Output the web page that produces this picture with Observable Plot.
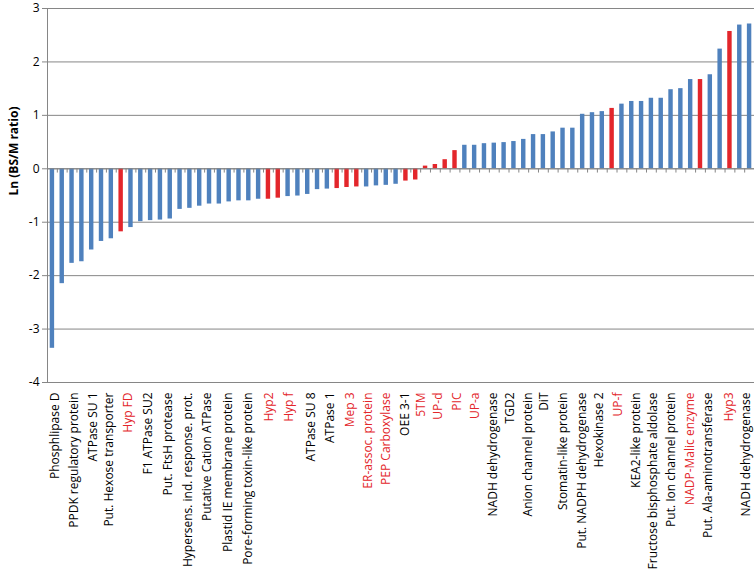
<!DOCTYPE html>
<html>
<head>
<meta charset="utf-8">
<script src="https://cdn.jsdelivr.net/npm/d3@7"></script>
<script src="https://cdn.jsdelivr.net/npm/@observablehq/plot@0.6"></script>
<style>
  html, body { margin: 0; padding: 0; background: #fff; }
</style>
</head>
<body>
<div id="chart"></div>
<script>
// Ln (BS/M ratio) for each protein, sorted ascending (72 bars)
const values = [
  -3.36, -2.15, -1.77, -1.74, -1.52, -1.36, -1.31, -1.18, -1.10, -0.99,
  -0.97, -0.96, -0.94, -0.76, -0.74, -0.70, -0.66, -0.66, -0.62, -0.60,
  -0.60, -0.57, -0.57, -0.55, -0.52, -0.51, -0.48, -0.39, -0.38, -0.37,
  -0.35, -0.34, -0.34, -0.32, -0.31, -0.29, -0.23, -0.21, 0.05, 0.08,
  0.17, 0.34, 0.44, 0.44, 0.47, 0.48, 0.49, 0.51, 0.55, 0.64,
  0.64, 0.69, 0.76, 0.76, 1.02, 1.05, 1.07, 1.13, 1.21, 1.26,
  1.26, 1.32, 1.32, 1.48, 1.50, 1.67, 1.67, 1.76, 2.24, 2.57,
  2.69, 2.71
];
// bars highlighted in red
const redBars = [7, 22, 23, 29, 30, 31, 36, 37, 38, 39, 40, 41, 57, 66, 69];

// category labels shown on the axis, and where each sits along the bar sequence
const labels = [
  "Phosphlipase D", "PPDK regulatory protein", "ATPase SU 1", "Put. Hexose transporter",
  "Hyp FD", "F1 ATPase SU2", "Put. FtsH protease", "Hypersens. ind. response. prot.",
  "Putative Cation ATPase", "Plastid IE membrane protein", "Pore-forming toxin-like protein",
  "Hyp2", "Hyp f", "ATPase SU 8", "ATPase 1", "Mep 3", "ER-assoc. protein",
  "PEP Carboxylase", "OEE 3-1", "5TM", "UP-d", "PIC", "UP-a", "NADH dehydrogenase",
  "TGD2", "Anion channel protein", "DiT", "Stomatin-like protein",
  "Put. NADPH dehydrogenase", "Hexokinase 2", "UP-f", "KEA2-like protein",
  "Fructose bisphosphate aldolase", "Put. Ion channel protein", "NADP-Malic enzyme",
  "Put. Ala-aminotransferase", "Hyp3", "NADH dehydrogenase"
];
const labelAt = [
  0.3, 2.2, 4.1, 5.8, 7.7, 9.7, 11.8, 13.8, 15.8, 17.9, 19.9, 22.1, 24.1, 26.3, 28.3,
  30.3, 32.2, 34.0, 35.9, 37.6, 39.3, 41.2, 43.1, 44.9, 46.6, 48.4, 50.1, 52.0, 53.9,
  55.7, 57.6, 59.4, 61.2, 63.0, 64.9, 66.8, 68.9, 70.6
];
// labels written in red
const redLabels = [
  "Hyp FD", "Hyp2", "Hyp f", "Mep 3", "ER-assoc. protein", "PEP Carboxylase",
  "5TM", "UP-d", "PIC", "UP-a", "UP-f", "NADP-Malic enzyme", "Hyp3"
];
const yTicks = [-4, -3, -2, -1, 0, 1, 2, 3];
const yTitle = "Ln (BS/M ratio)";

const BLUE = "#4f81bd";
const RED = "#e3262b";
const GRID = "#868686";

const bars = values.map((v, i) => ({i, v, red: redBars.includes(i)}));
const tickPos = labelAt.map(p => p + 0.5);          // bar i spans [i, i + 1]
const labelOf = new Map(tickPos.map((p, k) => [p, labels[k]]));
const redLabelSet = new Set(redLabels);

const chart = Plot.plot({
  width: 754,
  height: 581,
  marginLeft: 47,
  marginRight: 0,
  marginTop: 8,
  marginBottom: 199,
  style: {fontFamily: "'Open Sans', sans-serif", fontSize: "12px", background: "#fff", color: "#000"},
  x: {type: "linear", domain: [0, values.length], axis: null},
  y: {domain: [-4, 3], axis: null},
  color: {type: "identity"},
  marks: [
    Plot.gridY(yTicks, {stroke: GRID, strokeOpacity: 1}),
    Plot.frame({anchor: "left", stroke: GRID}),
    Plot.axisY(yTicks, {
      anchor: "left", tickSize: 5, tickPadding: 3, stroke: GRID,
      tickFormat: d => String(d), fontSize: 12, label: null
    }),
    Plot.rectY(bars, {x: "i", interval: 1, y: "v", insetLeft: 2.7, insetRight: 2.7,
      fill: d => d.red ? RED : BLUE}),
    Plot.ruleY([0], {stroke: GRID}),
    Plot.ruleX(d3.range(1, values.length + 1), {x: d => d, y1: 0, y2: -0.08, stroke: GRID}),
    Plot.axisX(tickPos, {
      anchor: "bottom", tickSize: 0, tickPadding: 10, tickRotate: -90,
      textAnchor: "end", lineAnchor: "middle",
      tickFormat: p => labelOf.get(p), label: null, fontSize: 12,
      fill: p => redLabelSet.has(labelOf.get(p)) ? RED : "#000"
    }),
    Plot.text([yTitle], {
      frameAnchor: "left", rotate: -90, dx: -33, fontWeight: "bold", fontSize: 12, fill: "#000"
    })
  ]
});
document.getElementById("chart").append(chart);
</script>
</body>
</html>
